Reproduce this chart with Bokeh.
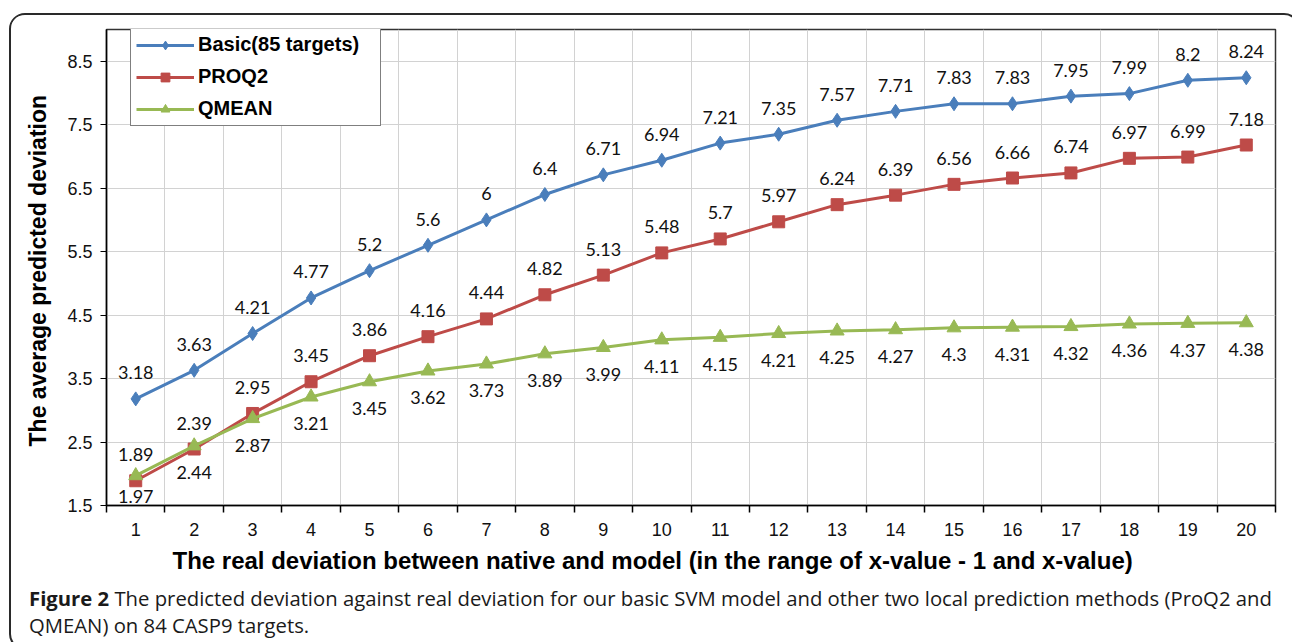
from bokeh.plotting import figure
from bokeh.layouts import column
from bokeh.models import (Range1d, FixedTicker, LabelSet, ColumnDataSource,
                          Legend, LegendItem, Div, Title)
from bokeh.core.properties import value
from bokeh.embed import file_html
from bokeh.resources import INLINE

# ---------------- data ----------------
x_values = list(range(1, 21))
basic = [3.18, 3.63, 4.21, 4.77, 5.2, 5.6, 6, 6.4, 6.71, 6.94,
         7.21, 7.35, 7.57, 7.71, 7.83, 7.83, 7.95, 7.99, 8.2, 8.24]
proq2 = [1.89, 2.39, 2.95, 3.45, 3.86, 4.16, 4.44, 4.82, 5.13, 5.48,
         5.7, 5.97, 6.24, 6.39, 6.56, 6.66, 6.74, 6.97, 6.99, 7.18]
qmean = [1.97, 2.44, 2.87, 3.21, 3.45, 3.62, 3.73, 3.89, 3.99, 4.11,
         4.15, 4.21, 4.25, 4.27, 4.3, 4.31, 4.32, 4.36, 4.37, 4.38]
y_ticks = [1.5, 2.5, 3.5, 4.5, 5.5, 6.5, 7.5, 8.5]
series_names = ["Basic(85 targets)", "PROQ2", "QMEAN"]
x_title = "The real deviation between native and model (in the range of x-value - 1 and x-value)"
y_title = "The  average predicted deviation"
caption_bold = "Figure 2"
caption_line1 = "The predicted deviation against real deviation for our basic SVM model and other two local prediction methods (ProQ2 and"
caption_line2 = "QMEAN) on 84 CASP9 targets."

# ---------------- layout ----------------
W = 1277
BL, BR, BT, BB = 95, 13, 14, 75
FH = 476
H = BT + FH + BB

p = figure(width=W, height=H, x_range=Range1d(0.5, 20.5), y_range=Range1d(1.5, 9.0),
           output_backend="svg", toolbar_location=None,
           min_border_left=BL, min_border_right=BR, min_border_top=BT, min_border_bottom=BB)
p.background_fill_color = "white"
p.border_fill_color = "white"
p.outline_line_color = "#333333"
p.outline_line_width = 1.5

# x axis: labels at categories, tick marks at category boundaries
p.xaxis.ticker = FixedTicker(ticks=x_values, minor_ticks=[v + 0.5 for v in range(0, 21)])
p.xaxis.major_tick_in = 0
p.xaxis.major_tick_out = 0
p.xaxis.minor_tick_in = 0
p.xaxis.minor_tick_out = 7
p.xaxis.minor_tick_line_color = "black"
p.xaxis.minor_tick_line_width = 1.5
p.xaxis.axis_line_color = "black"
p.xaxis.axis_line_width = 1.5
p.xaxis.major_label_standoff = 10
p.xaxis.major_label_text_font = "Liberation Sans"
p.xaxis.major_label_text_font_size = "18px"
p.xaxis.major_label_text_color = "#111111"

# x axis title, left-shifted as in the original
p.add_layout(Title(text=x_title, align="left", offset=66, standoff=12,
                   text_font="Liberation Sans", text_font_style="bold",
                   text_font_size="24px", text_color="black"), "below")

p.yaxis.ticker = FixedTicker(ticks=y_ticks, minor_ticks=[])
p.yaxis.major_tick_in = 0
p.yaxis.major_tick_out = 6
p.yaxis.major_tick_line_color = "black"
p.yaxis.major_tick_line_width = 1.2
p.yaxis.axis_line_color = "black"
p.yaxis.axis_line_width = 1.5
p.yaxis.major_label_standoff = 8
p.yaxis.major_label_text_font = "Liberation Sans"
p.yaxis.major_label_text_font_size = "18px"
p.yaxis.major_label_text_color = "#111111"
p.yaxis.axis_label = y_title
p.yaxis.axis_label_text_font = "Liberation Sans"
p.yaxis.axis_label_text_font_style = "bold"
p.yaxis.axis_label_text_font_size = "23px"
p.yaxis.axis_label_text_color = "black"
p.yaxis.axis_label_standoff = 13

p.xgrid.ticker = FixedTicker(ticks=[v + 0.5 for v in range(1, 20)])
p.xgrid.grid_line_color = "#d2d2d2"
p.xgrid.grid_line_width = 1
p.ygrid.grid_line_color = "#d2d2d2"
p.ygrid.grid_line_width = 1

# ---------------- series ----------------
c_blue, c_red, c_green = "#4a7ebb", "#be4b48", "#98b954"

l1 = p.line(x_values, basic, line_color=c_blue, line_width=3)
m1 = p.scatter(x_values, basic, marker="diamond", size=14, fill_color=c_blue, line_color=c_blue)
l2 = p.line(x_values, proq2, line_color=c_red, line_width=3)
m2 = p.scatter(x_values, proq2, marker="square", size=12, fill_color=c_red, line_color=c_red)
l3 = p.line(x_values, qmean, line_color=c_green, line_width=3)
m3 = p.scatter(x_values, qmean, marker="triangle", size=14, fill_color=c_green, line_color=c_green)


def add_labels(vals, offsets):
    src = ColumnDataSource(dict(x=x_values, y=vals, t=[f"{v:g}" for v in vals], off=offsets))
    ls = LabelSet(x="x", y="y", text="t", source=src, y_offset="off",
                  text_align="center", text_baseline="middle",
                  text_font=value("Lato"), text_font_size="18px", text_color="#111111")
    p.add_layout(ls)


above = [26] * len(x_values)
below = [-27] * len(x_values)
below[0] = -21   # nudged inside the plot area, as in the original
add_labels(basic, above)
add_labels(proq2, above)
add_labels(qmean, below)

legend = Legend(items=[LegendItem(label=series_names[0], renderers=[l1, m1]),
                       LegendItem(label=series_names[1], renderers=[l2, m2]),
                       LegendItem(label=series_names[2], renderers=[l3, m3])],
                location=(24, FH - 3 - 94))
legend.border_line_color = "black"
legend.border_line_width = 1.5
legend.background_fill_color = "white"
legend.background_fill_alpha = 1.0
legend.label_text_font = "Liberation Sans"
legend.label_text_font_style = "bold"
legend.label_text_font_size = "20px"
legend.label_text_color = "black"
legend.glyph_width = 58
legend.glyph_height = 22
legend.label_height = 22
legend.label_width = 177
legend.label_standoff = 4
legend.spacing = 9
legend.padding = 5
legend.margin = 0
p.add_layout(legend)

# ---------------- caption ----------------
cap = Div(text=f"<b>{caption_bold}</b> {caption_line1}<br>{caption_line2}",
          width=W, height=58,
          styles={"font-family": "'Open Sans'", "font-size": "20.3px", "line-height": "27px",
                  "color": "#1a1a1a", "padding": "0px 0 0 13px", "box-sizing": "border-box",
                  "white-space": "nowrap", "background": "white"})

layout = column(p, cap, spacing=0,
                styles={"margin": "13px 0 0 9px", "border": "2px solid #2a2a2a",
                        "border-radius": "16px", "background": "white", "overflow": "hidden"})

open("out.html", "w").write(file_html(layout, INLINE))
